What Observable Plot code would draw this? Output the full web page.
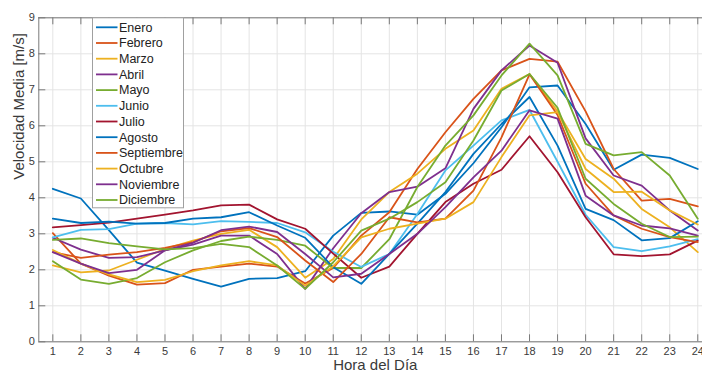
<!DOCTYPE html>
<html><head><meta charset="utf-8">
<script src="https://cdn.jsdelivr.net/npm/d3@7"></script>
<script src="https://cdn.jsdelivr.net/npm/@observablehq/plot@0.6"></script>
<style>
body{margin:0;background:#fff;}
#chart svg{display:block;}
</style></head><body><div id="chart"></div>
<script>
const meses = ["Enero","Febrero","Marzo","Abril","Mayo","Junio","Julio","Agosto","Septiembre","Octubre","Noviembre","Diciembre"];
const colores = ["#0072BD","#D95319","#EDB120","#7E2F8E","#77AC30","#4DBEEE","#A2142F","#0072BD","#D95319","#EDB120","#7E2F8E","#77AC30"];
const horas = [1,2,3,4,5,6,7,8,9,10,11,12,13,14,15,16,17,18,19,20,21,22,23,24];
const yTicks = [0,1,2,3,4,5,6,7,8,9];

const enero      = [4.25,3.98,3.10,2.20,1.98,1.75,1.53,1.75,1.77,1.96,2.95,3.58,3.62,3.53,4.11,4.96,5.96,7.07,7.12,6.05,4.78,5.20,5.11,4.80];
const febrero    = [3.02,2.17,1.84,1.59,1.63,2.00,2.09,2.17,2.09,1.62,2.05,2.95,3.60,4.80,5.82,6.75,7.54,7.86,7.78,6.40,4.80,3.92,3.97,3.76];
const marzo      = [2.12,1.93,1.98,2.28,2.58,2.81,3.00,3.11,2.63,1.78,2.30,3.40,4.16,4.67,5.36,5.87,7.03,7.44,6.40,5.08,4.53,3.69,3.18,2.49];
const abril      = [2.89,2.56,2.33,2.35,2.54,2.70,2.95,2.95,2.44,1.47,2.60,3.57,4.16,4.31,4.82,6.47,7.54,8.23,7.75,5.65,4.62,4.34,3.65,3.09];
const mayo       = [2.24,1.73,1.61,1.77,2.21,2.54,2.80,2.92,2.83,2.67,2.05,2.05,2.85,4.30,5.45,6.29,7.40,8.28,7.40,5.50,5.18,5.27,4.62,3.42];
const junio      = [2.90,3.11,3.13,3.28,3.30,3.26,3.35,3.33,3.30,3.04,2.50,2.08,2.44,3.55,4.76,5.45,6.15,6.44,5.00,3.53,2.63,2.52,2.65,2.85];
const julio      = [3.18,3.24,3.31,3.42,3.53,3.65,3.79,3.81,3.40,3.14,2.45,1.78,2.09,3.00,3.88,4.39,4.78,5.71,4.71,3.46,2.43,2.38,2.43,2.81];
const agosto     = [3.42,3.30,3.34,3.28,3.30,3.42,3.46,3.60,3.23,2.89,2.07,1.61,2.44,3.28,4.16,5.22,6.05,6.80,5.45,3.69,3.38,2.82,2.88,3.35];
const septiembre = [2.49,2.33,2.42,2.49,2.61,2.77,3.07,3.16,2.91,2.26,1.66,2.44,3.46,3.32,3.42,4.20,5.68,7.43,6.30,4.39,3.51,3.14,2.91,2.77];
const octubre    = [2.55,2.17,1.87,1.66,1.72,1.96,2.12,2.24,2.12,1.56,2.10,2.90,3.14,3.28,3.42,3.88,5.13,6.29,6.38,4.80,4.16,4.17,3.65,3.26];
const noviembre  = [2.49,2.17,1.91,2.00,2.54,2.75,3.10,3.20,3.05,2.44,1.79,1.89,2.44,3.00,3.74,4.57,5.31,6.43,6.20,4.06,3.51,3.23,3.15,2.95];
const diciembre  = [2.83,2.87,2.74,2.65,2.57,2.60,2.72,2.63,2.12,1.47,2.21,3.09,3.42,3.88,4.43,5.59,6.98,7.44,6.50,4.53,3.83,3.28,2.91,2.92];

const series = [enero,febrero,marzo,abril,mayo,junio,julio,agosto,septiembre,octubre,noviembre,diciembre];
const tabla = [];
series.forEach((vals, i) => vals.forEach((v, j) => tabla.push({mes: meses[i], hora: horas[j], valor: v})));

const W = 702, H = 377;
const xDomain = [0.5, 24.5], yDomain = [0, 9];
const padLeft = 38.3, padTop = 17.3, axisBottom = 341.3, axisRight = 711.3;
const plotH = axisBottom - padTop;
const axisColor = "#7a7a7a", textColor = "#3a3a3a", gridColor = "#e4e4e4";
const font = "'Liberation Sans', Arial, Helvetica, sans-serif";

const chart = Plot.plot({
  width: W, height: H,
  marginLeft: padLeft, marginTop: padTop, marginBottom: H - axisBottom, marginRight: 0,
  style: {fontFamily: font, background: "white", color: textColor},
  x: {domain: xDomain, range: [padLeft, axisRight]},
  y: {domain: yDomain},
  color: {domain: meses, range: colores},
  marks: [
    Plot.gridX(horas, {stroke: gridColor, strokeOpacity: 1}),
    Plot.gridY(yTicks, {stroke: gridColor, strokeOpacity: 1}),
    Plot.line(tabla, {x: "hora", y: "valor", z: "mes", stroke: "mes", strokeWidth: 1.8}),
    Plot.ruleY([yDomain[0]], {stroke: axisColor}),
    Plot.ruleY([yDomain[1]], {stroke: axisColor}),
    Plot.ruleX([xDomain[0]], {stroke: axisColor}),
    Plot.tickX(horas, {x: d => d, insetTop: plotH - 7, stroke: axisColor}),
    Plot.tickX(horas, {x: d => d, insetBottom: plotH - 7, stroke: axisColor}),
    Plot.tickY(yTicks, {y: d => d, insetRight: (W - padLeft) - 7, stroke: axisColor}),
    Plot.axisX(horas, {tickSize: 0, tickPadding: 5, fontSize: 11, label: null, fill: textColor}),
    Plot.axisY(yTicks, {tickSize: 0, tickPadding: 4, fontSize: 11, label: null, fill: textColor}),
    Plot.text(["Hora del Día"], {x: () => (xDomain[0] + xDomain[1]) / 2, frameAnchor: "bottom", dy: 28, fontSize: 15, fill: textColor}),
    Plot.text(["Velocidad Media [m/s]"], {frameAnchor: "left", rotate: -90, dx: -20, fontSize: 15, fill: textColor})
  ]
});
document.getElementById("chart").appendChild(chart);

// Leyenda
const svg = d3.select(chart);
const lg = svg.append("g").attr("font-family", font).attr("font-size", 12.5).attr("text-anchor", "start");
lg.append("rect").attr("x", 92.5).attr("y", 17.8).attr("width", 91).attr("height", 190)
  .attr("fill", "white").attr("stroke", "#a0a0a0");
meses.forEach((m, i) => {
  const y = 27.3 + i * 15.7;
  lg.append("line").attr("x1", 96).attr("x2", 117.5).attr("y1", y).attr("y2", y)
    .attr("stroke", colores[i]).attr("stroke-width", 1.8);
  lg.append("text").attr("x", 119).attr("y", y).attr("dy", "0.35em").attr("text-anchor", "start")
    .attr("fill", "#222").text(m);
});
</script></body></html>
